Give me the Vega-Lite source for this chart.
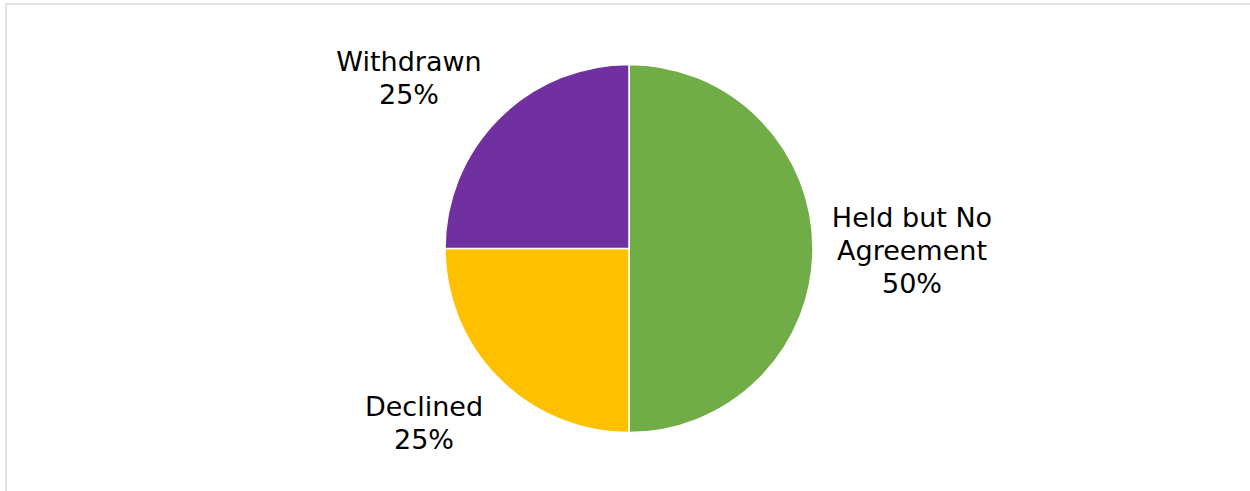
{
  "$schema": "https://vega.github.io/schema/vega-lite/v6.json",
  "width": 1250,
  "height": 491,
  "autosize": {"type": "fit", "contains": "padding"},
  "padding": {"left": 6, "top": -1, "right": -2, "bottom": -2},
  "background": "white",
  "view": {"stroke": "#d9d9d9", "strokeWidth": 1.5, "fill": "white"},
  "data": {
    "values": [
      {"status": "Held but No Agreement", "share": 50, "order": 1, "label": "Held but No\nAgreement\n50%"},
      {"status": "Declined", "share": 25, "order": 2, "label": "Declined\n25%"},
      {"status": "Withdrawn", "share": 25, "order": 3, "label": "Withdrawn\n25%"}
    ]
  },
  "encoding": {
    "theta": {"field": "share", "type": "quantitative", "stack": true},
    "order": {"field": "order", "type": "quantitative"}
  },
  "layer": [
    {
      "mark": {"type": "arc", "outerRadius": 184, "stroke": "white", "strokeWidth": 1.5},
      "encoding": {
        "color": {
          "field": "status",
          "type": "nominal",
          "scale": {"domain": ["Held but No Agreement", "Declined", "Withdrawn"], "range": ["#70AD47", "#FFC000", "#7030A0"]},
          "legend": null
        }
      }
    },
    {
      "mark": {"type": "text", "radius": 280, "dx": 3, "dy": -30, "font": "DejaVu Sans", "fontSize": 27, "lineBreak": "\n", "lineHeight": 33, "color": "black", "align": "center", "baseline": "middle"},
      "encoding": {"text": {"condition": {"test": "datum.status === 'Held but No Agreement'", "field": "label"}, "value": ""}}
    },
    {
      "mark": {"type": "text", "radius": 280, "dx": -7, "dy": -38, "font": "DejaVu Sans", "fontSize": 27, "lineBreak": "\n", "lineHeight": 33, "color": "black", "align": "center", "baseline": "middle"},
      "encoding": {"text": {"condition": {"test": "datum.status === 'Declined'", "field": "label"}, "value": ""}}
    },
    {
      "mark": {"type": "text", "radius": 280, "dx": -22, "dy": 12, "font": "DejaVu Sans", "fontSize": 27, "lineBreak": "\n", "lineHeight": 33, "color": "black", "align": "center", "baseline": "middle"},
      "encoding": {"text": {"condition": {"test": "datum.status === 'Withdrawn'", "field": "label"}, "value": ""}}
    }
  ]
}
